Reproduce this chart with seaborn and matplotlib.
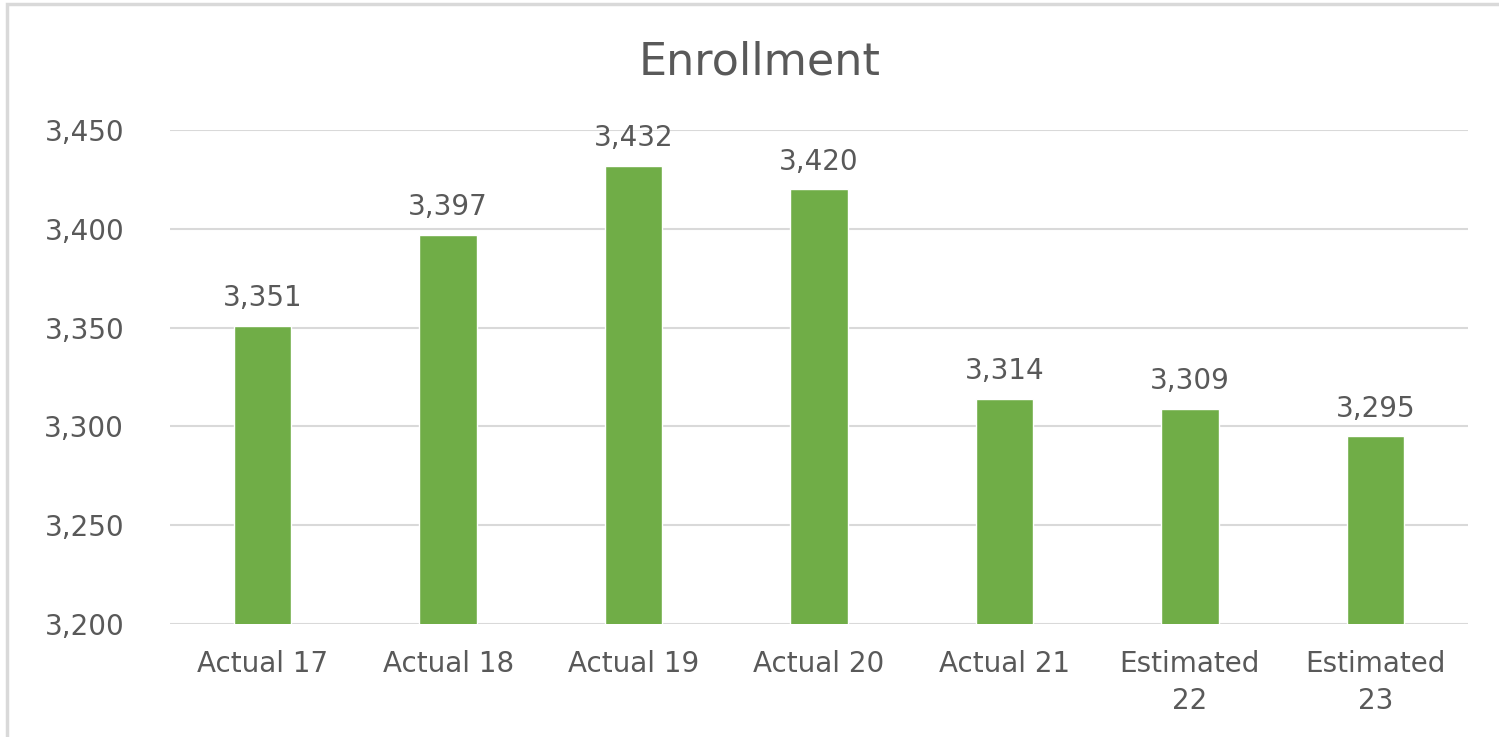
import matplotlib
matplotlib.use("Agg")
import matplotlib.pyplot as plt
import seaborn as sns
import pandas as pd
from matplotlib.patches import Rectangle

# chart data
categories = ["Actual 17", "Actual 18", "Actual 19", "Actual 20", "Actual 21",
              "Estimated\n22", "Estimated\n23"]
enrollment = [3351, 3397, 3432, 3420, 3314, 3309, 3295]
y_ticks = [3200, 3250, 3300, 3350, 3400, 3450]

sns.set_theme(style="white")
plt.rcParams['font.family'] = ['DejaVu Sans']

text_color = "#595959"
green = "#70AD47"

data = pd.DataFrame({"Year": categories, "Enrollment": enrollment})

fig = plt.figure(figsize=(14.99, 7.37), dpi=100)
ax = fig.add_axes([0.1134, 0.1533, 0.8659, 0.6703])

sns.barplot(x="Year", y="Enrollment", data=data, color=green, width=0.31,
            saturation=1, ax=ax)

ax.set_ylim(3200, 3450)
ax.set_xlim(-0.5, len(categories) - 0.5)
ax.set_yticks(y_ticks)
ax.set_yticklabels([f"{v:,}" for v in y_ticks], color=text_color, fontsize=20)
ax.set_xticks(range(len(categories)))
ax.set_xticklabels(categories, color=text_color, fontsize=20, linespacing=1.4)
ax.tick_params(axis="y", length=0, pad=33)
ax.tick_params(axis="x", length=0, pad=19)
ax.set_xlabel("")
ax.set_ylabel("")

ax.yaxis.grid(True, color="#D9D9D9", linewidth=1.5)
ax.set_axisbelow(True)
for s in ax.spines.values():
    s.set_visible(False)

for i, v in enumerate(enrollment):
    ax.annotate(f"{v:,}", (i, v), xytext=(0, 14), textcoords="offset points",
                ha="center", va="baseline", fontsize=20, color=text_color)

fig.text(0.507, 0.916, "Enrollment", ha="center", va="center",
         fontsize=32, color=text_color)

# light frame around the chart
fig.patches.append(Rectangle((0.005, -0.01), 1.0, 1.005, transform=fig.transFigure,
                             fill=False, edgecolor="#D9D9D9", linewidth=2.5))

fig.savefig("out.png", dpi=100)
